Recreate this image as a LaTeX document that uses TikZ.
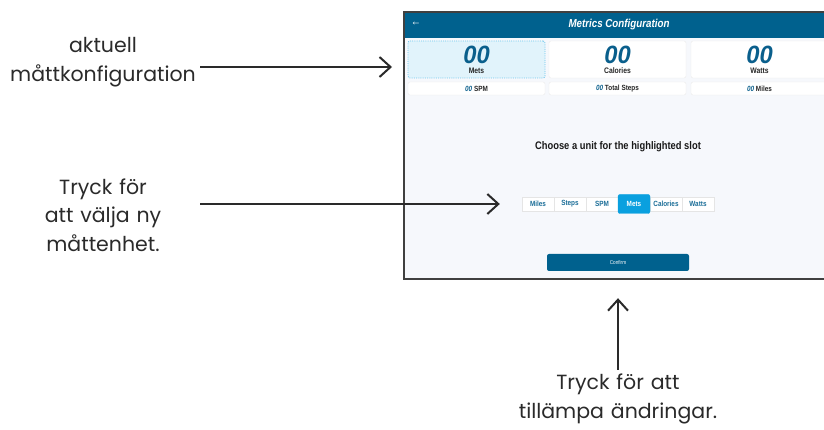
\documentclass[tikz,border=0pt]{standalone}
\usepackage{fontspec}
\setmainfont{Poppins}
\newfontfamily\uifont[FakeStretch=0.85]{Liberation Sans}
\newfontfamily\numfont[FakeStretch=0.95]{Liberation Sans}
\usetikzlibrary{arrows.meta}

\definecolor{hdrblue}{HTML}{00618E}
\definecolor{numblue}{HTML}{0A5F8C}
\definecolor{selblue}{HTML}{0AA0DF}
\definecolor{selfill}{HTML}{E1F3FB}
\definecolor{scrbg}{HTML}{F6F8FC}
\definecolor{btntext}{HTML}{1B6E98}
\definecolor{inkgray}{HTML}{2A2A2A}

\tikzset{
  callout/.style={font=\fontsize{20.5}{28.5}\selectfont, text=inkgray, align=center, text width=194pt, inner sep=0pt},
  pointer/.style={-{Straight Barb[length=11pt,width=20pt]}, line width=2pt, draw=inkgray},
  card/.style={draw=black!8, fill=white, rounded corners=2pt, minimum width=137pt, minimum height=37pt, inner sep=0pt},
  selcard/.style={card, fill=selfill, draw=selblue!60, line width=0.8pt, dash pattern=on 1pt off 1.2pt},
  chip/.style={draw=black!8, fill=white, rounded corners=2pt, minimum width=137pt, minimum height=13pt, inner sep=0pt, font=\uifont\bfseries\fontsize{7.5}{8}\selectfont, text=black!85},
  bignum/.style={font=\numfont\bfseries\itshape\fontsize{25}{25}\selectfont, text=numblue, inner sep=0pt},
  cardlbl/.style={font=\uifont\bfseries\fontsize{8}{8}\selectfont, text=black!85, inner sep=0pt},
  unit/.style={draw=black!10, fill=white, minimum width=32pt, minimum height=14pt, inner sep=0pt, font=\uifont\bfseries\fontsize{7.5}{8}\selectfont, text=btntext},
  selunit/.style={unit, fill=selblue, draw=selblue, text=white, rounded corners=2pt, minimum height=19pt},
}

\begin{document}
\begin{tikzpicture}[x=1pt, y=-1pt]
	\useasboundingbox (0,0) rectangle (824,430);
	\clip (0,0) rectangle (824,430);
	% screen
	\fill[scrbg] (404,12) rectangle (832,279);
	\fill[hdrblue] (404,12) rectangle (832,38);
	\node (back) at (416,24) [text=white, inner sep=0pt, font=\uifont\fontsize{12}{12}\selectfont] {←};
	\node (title) at (619,25) [text=white, inner sep=0pt, font=\uifont\bfseries\itshape\fontsize{11.5}{12}\selectfont] {Metrics Configuration};
	\draw[line width=1.2pt, draw=black!75] (404,12) rectangle (832,279);
	% current metrics
	\node (cardMets) at (476.5, 59.5)	[selcard]	{};
	\node (cardCal) at (617.5, 59.5)	[card]	{};
	\node (cardWatts) at (759.5, 59.5)	[card]	{};
	\node (numMets) at (476.5, 54.5)	[bignum]	{00};
	\node (numCal) at (617.5, 54.5)	[bignum]	{00};
	\node (numWatts) at (759.5, 54.5)	[bignum]	{00};
	\node (lblMets) at (476.5, 70.5)	[cardlbl]	{Mets};
	\node (lblCal) at (617.5, 70.5)	[cardlbl]	{Calories};
	\node (lblWatts) at (759.5, 70.5)	[cardlbl]	{Watts};
	\node (chipSpm) at (476.5, 88.5)	[chip]	{\textcolor{numblue}{\itshape 00} SPM};
	\node (chipSteps) at (617.5, 88.5)	[chip]	{\textcolor{numblue}{\itshape 00} Total Steps};
	\node (chipMiles) at (759.5, 88.5)	[chip]	{\textcolor{numblue}{\itshape 00} Miles};
	% unit choice
	\node (prompt) at (618,147)	[inner sep=0pt, text=black!90, font=\uifont\bfseries\fontsize{11}{11}\selectfont]	{Choose a unit for the highlighted slot};
	\node (unitMiles) at (538,204)	[unit]	{Miles};
	\node (unitSteps) at (570,204)	[unit]	{Steps};
	\node (unitSpm) at (602,204)	[unit]	{SPM};
	\node (unitCal) at (666,204)	[unit]	{Calories};
	\node (unitWatts) at (698,204)	[unit]	{Watts};
	\node (unitMets) at (634,204)	[selunit]	{Mets};
	\node (btnConfirm) at (618,262.5)	[fill=hdrblue, rounded corners=2pt, minimum width=142pt, minimum height=17pt, inner sep=0pt, text=white, font=\uifont\fontsize{5.5}{6}\selectfont]	{Confirm};
	% callouts
	\node (lblCur) at (103,62)	[callout]	{aktuell\\måttkonfiguration};
	\node (lblUnit) at (103,215)	[callout]	{Tryck för\\att välja ny\\måttenhet.};
	\node (lblApply) at (618,399)	[callout, text width=260pt]	{Tryck för att\\tillämpa ändringar.};
	\coordinate (tipCur) at (392,67);
	\draw[pointer] (lblCur.east |- tipCur) -- (tipCur);
	\draw[pointer, shorten >=22pt] (lblUnit.east |- unitMiles.west) -- (unitMiles.west);
	\draw[pointer, shorten <=4pt, shorten >=27pt] (lblApply.north) -- (btnConfirm.south);
\end{tikzpicture}
\end{document}
